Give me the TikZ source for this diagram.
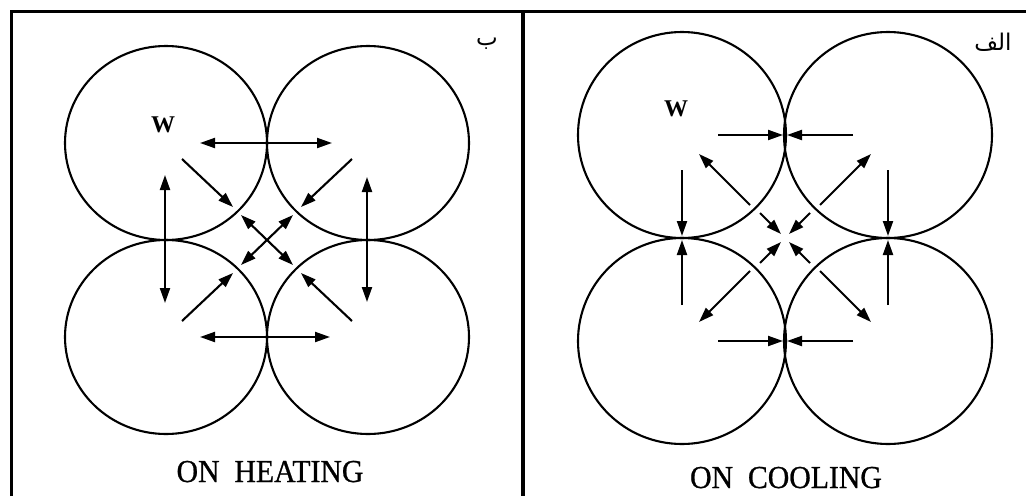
\documentclass[tikz,border=0pt]{standalone}
\usepackage{fontspec}
\setmainfont{Liberation Serif}
\newfontfamily\titfont{Liberation Serif}[FakeBold=0.8]
\newfontfamily\arabicfont[Script=Arabic]{DejaVu Sans}
\TeXXeTstate=1
\usetikzlibrary{arrows.meta}

\tikzset{
  sfera/.style={line width=2.1pt},
  freccia/.style={line width=2.1pt},
  cornice/.style={line width=3pt},
  titolo/.style={inner sep=0pt, anchor=base, font=\titfont\fontsize{32}{32}\selectfont},
  etich/.style={font=\bfseries\fontsize{24}{24}\selectfont},
  lettera/.style={font=\arabicfont\fontsize{23}{23}\selectfont}
}

\begin{document}
\begin{tikzpicture}[x=1pt, y=-1pt, >={Triangle[length=15pt,width=10pt]}]
    \useasboundingbox (0,0) rectangle (1026,496);

    % Cornice
    \draw[cornice] (11,496) -- (11,11) -- (1026,11);
    \draw[line width=4pt] (523,11) -- (523,496);

    % Riscaldamento
    \begin{scope}[shift={(267,240)}]
        \foreach \sx/\sy in {-1/-1,1/-1,-1/1,1/1}
            \draw[sfera] (101*\sx,97*\sy) circle [x radius=101, y radius=97];

        % dilatazione sui contatti
        \draw[freccia,<->] (-67,-97) -- (65,-97);
        \draw[freccia,<->] (-67,97) -- (63,97);
        \draw[freccia,<->] (-102,-65) -- (-102,63);
        \draw[freccia,<->] (100,-63) -- (100,62);

        % verso il centro
        \foreach \sx/\sy in {-1/-1,1/-1,-1/1,1/1}
            \draw[freccia,->] (85*\sx,81*\sy) -- (34*\sx,33*\sy);
        \draw[freccia,<->] (-26,-25) -- (26,25);
        \draw[freccia,<->] (26,-25) -- (-26,25);

        \node[etich] (wH) at (-104,-115) {W};
    \end{scope}
    \node[lettera] (bH) at (487,44) {\beginR ب\endR};
    \node[titolo] (titH) at (270,482) {\scalebox{0.93}[1]{ON~~HEATING}};

    % Raffreddamento
    \begin{scope}[shift={(785,238)}]
        \foreach \sx/\sy in {-1/-1,1/-1,-1/1,1/1}
            \draw[sfera] (103*\sx,103*\sy) circle [x radius=104, y radius=103];

        % contrazione sui contatti
        \foreach \s in {-1,1} {
            \draw[freccia,->] (-67,103*\s) -- (-2,103*\s);
            \draw[freccia,->] (68,103*\s) -- (2,103*\s);
            \draw[freccia,->] (103*\s,-68) -- (103*\s,-2);
            \draw[freccia,->] (103*\s,67) -- (103*\s,2);
        }

        % diagonali: fuori e dentro
        \foreach \sx/\sy in {-1/-1,1/-1,-1/1,1/1} {
            \draw[freccia,->] (35*\sx,33*\sy) -- (86*\sx,84*\sy);
            \draw[freccia,->] (25*\sx,25*\sy) -- (4*\sx,4*\sy);
        }

        \node[etich] (wC) at (-109,-129) {W};
    \end{scope}
    \node[lettera] (alefC) at (993,42) {\beginR الف\endR};
    \node[titolo] (titC) at (786,488) {\scalebox{0.93}[1]{ON~~COOLING}};

\end{tikzpicture}
\end{document}
